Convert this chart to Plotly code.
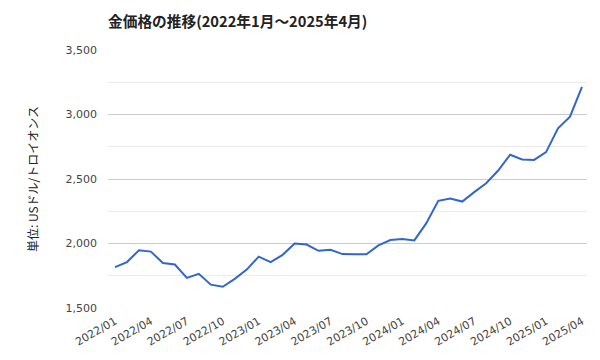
import plotly.graph_objects as go

months = [f"{y}/{m:02d}" for y in range(2022, 2026) for m in range(1, 13)][:40]
prices = [1817, 1856, 1948, 1937, 1849, 1837, 1733, 1765, 1681, 1665, 1726, 1798,
          1898, 1855, 1912, 2000, 1992, 1943, 1951, 1918, 1916, 1916, 1985, 2027,
          2034, 2024, 2158, 2331, 2349, 2325, 2398, 2467, 2566, 2688, 2651, 2648,
          2708, 2893, 2983, 3215]
tick_idx = list(range(0, 40, 3))
tick_text = [months[i] for i in tick_idx]
y_ticks = [1500, 2000, 2500, 3000, 3500]
y_tick_text = ["1,500", "2,000", "2,500", "3,000", "3,500"]

x = list(range(len(prices)))

fig = go.Figure(go.Scatter(x=x, y=prices, mode="lines",
                           line=dict(color="#3366CC", width=2),
                           hoverinfo="skip"))

fig.update_layout(
    width=600, height=360,
    margin=dict(l=108, r=13, t=50, b=52),
    paper_bgcolor="white", plot_bgcolor="white",
    showlegend=False,
    font=dict(family="DejaVu Sans, Noto Sans CJK JP", size=11, color="#444"),
    title=dict(text="<b>金価格の推移(2022年1月～2025年4月)</b>",
               x=108/600, xanchor="left", y=1-22/360, yanchor="middle",
               font=dict(family="Noto Sans CJK JP", size=14.7, color="#222")),
    xaxis=dict(range=[-0.585, 39.42], tickmode="array", tickvals=tick_idx,
               ticktext=tick_text, tickangle=-30, showgrid=False, zeroline=False,
               showline=False, ticks="", ticklabelstandoff=4,
               tickfont=dict(family="DejaVu Sans", size=11, color="#444")),
    yaxis=dict(range=[1500, 3500], tickmode="array", tickvals=y_ticks,
               ticktext=y_tick_text, showgrid=True, gridcolor="#cccccc",
               gridwidth=1, zeroline=False, showline=False, ticks="",
               ticklabelstandoff=10,
               tickfont=dict(family="DejaVu Sans", size=11, color="#444"),
               minor=dict(dtick=250, tick0=1500, showgrid=True, gridcolor="#ebebeb", gridwidth=1),
               title=dict(text="単位: USドル/トロイオンス", standoff=24,
                          font=dict(family="Noto Sans CJK JP", size=12, color="#222"))),
)

fig.write_html("out.html")
